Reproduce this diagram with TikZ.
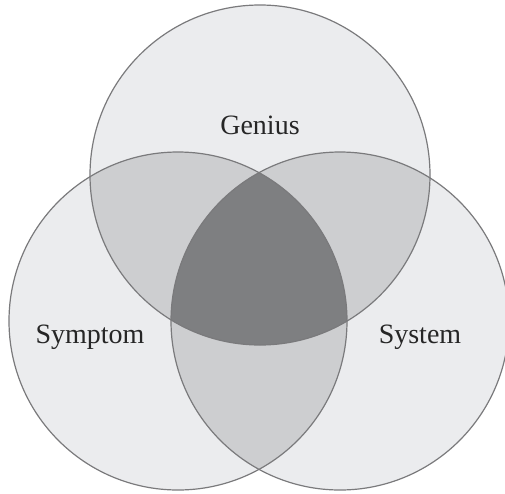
\documentclass[tikz,border=0pt]{standalone}
\usepackage{fontspec}
\setmainfont{Liberation Serif}
\definecolor{onefill}{HTML}{EBECEE}
\definecolor{twofill}{HTML}{CDCED0}
\definecolor{threefill}{HTML}{7E7F81}
\definecolor{ringline}{HTML}{7A7A7C}
\tikzset{
  ring/.style={draw=ringline, line width=1.2pt},
  lab/.style={font=\fontsize{28}{30}\selectfont, text=black!85},
}
\begin{document}
\begin{tikzpicture}[x=1pt,y=-1pt]
\useasboundingbox (0,0) rectangle (505,493);
\clip (0,0) rectangle (505,493);
\coordinate (cg) at (260,175);
\coordinate (cl) at (178,321);
\coordinate (cr) at (340,321);
\def\rg{170}
\def\rs{169}
% single fills
\fill[onefill] (cg) circle[radius=\rg];
\fill[onefill] (cl) circle[radius=\rs];
\fill[onefill] (cr) circle[radius=\rs];
% pairwise overlaps
\begin{scope}
  \clip (cg) circle[radius=\rg];
  \fill[twofill] (cl) circle[radius=\rs];
  \fill[twofill] (cr) circle[radius=\rs];
\end{scope}
\begin{scope}
  \clip (cl) circle[radius=\rs];
  \fill[twofill] (cr) circle[radius=\rs];
\end{scope}
% triple overlap
\begin{scope}
  \clip (cg) circle[radius=\rg];
  \clip (cl) circle[radius=\rs];
  \fill[threefill] (cr) circle[radius=\rs];
\end{scope}
% outlines
\draw[ring] (cg) circle[radius=\rg];
\draw[ring] (cl) circle[radius=\rs];
\draw[ring] (cr) circle[radius=\rs];
% labels
\node[lab] (genius) at (260,125) {Genius};
\node[lab] (symptom) at (90,337) {Symptom};
\node[lab] (system) at (420,337) {System};
\end{tikzpicture}
\end{document}
